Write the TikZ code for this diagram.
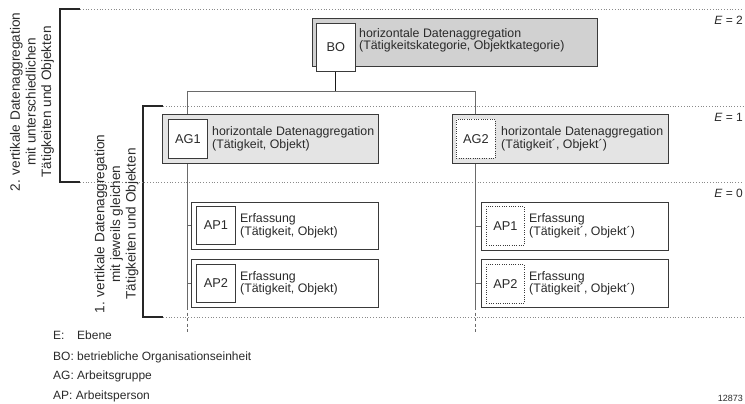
\documentclass[tikz,border=0pt]{standalone}
\usepackage{fontspec}
\setmainfont{Liberation Sans}
\definecolor{boxline}{HTML}{3A3A3A}
\definecolor{bofill}{HTML}{D1D1D1}
\definecolor{agfill}{HTML}{E4E4E4}
\definecolor{linkgray}{HTML}{6A6A6A}
\definecolor{levelgray}{HTML}{8A8A8A}
\definecolor{labeltext}{HTML}{2A2A2A}
\begin{document}
\begin{tikzpicture}[x=1pt,y=-1pt,
  txt/.style={font=\fontsize{12}{12.5}\selectfont, text=labeltext, inner sep=0pt},
  boxtxt/.style={txt, anchor=west, align=left, font=\fontsize{12.35}{12.6}\selectfont},
  frame/.style={draw=boxline, line width=0.8pt, inner sep=0pt, anchor=north west},
  bobox/.style={frame, fill=bofill},
  agbox/.style={frame, fill=agfill},
  apbox/.style={frame, fill=white},
  idbox/.style={frame, fill=white, font=\fontsize{12.8}{13}\selectfont, text=labeltext},
  idloose/.style={idbox, draw=boxline, dash pattern=on 0.9pt off 1.4pt},
  level/.style={draw=levelgray, line width=0.6pt, dash pattern=on 0.8pt off 2pt},
  bracket/.style={draw=black!85, line width=1.2pt},
  link/.style={draw=linkgray, line width=0.9pt},
  linktail/.style={link, dash pattern=on 3pt off 2.5pt},
  sidetext/.style={rotate=90, align=center, text=labeltext, inner sep=0pt,
    font=\fontsize{13.6}{15.6}\selectfont},
  levellabel/.style={txt, anchor=east},
  legend/.style={txt, anchor=west}
]
\useasboundingbox (0,0) rectangle (745,404);

% level boundaries with the two brackets
\coordinate (b2t) at (60,9);
\coordinate (b2b) at (60,182);
\coordinate (b1t) at (143,106);
\coordinate (b1b) at (143,317);
\draw[bracket] ([xshift=20pt]b2t) -- (b2t) -- (b2b) -- ([xshift=20pt]b2b);
\draw[bracket] ([xshift=20pt]b1t) -- (b1t) -- (b1b) -- ([xshift=20pt]b1b);
\draw[level] ([xshift=20pt]b2t) -- (743,9);
\draw[level] ([xshift=20pt]b1t) -- (743,106);
\draw[level] ([xshift=20pt]b2b) -- (743,182);
\draw[level] ([xshift=20pt]b1b) -- (743,317);

\node[levellabel] (e2) at (743,20) {\textit{E} = 2};
\node[levellabel] (e1) at (743,117) {\textit{E} = 1};
\node[levellabel] (e0) at (743,193) {\textit{E} = 0};

% side captions
\node[sidetext] (cap2) at (32,102) {2. vertikale Datenaggregation\\mit unterschiedlichen\\Tätigkeiten und Objekten};
\node[sidetext] (cap1) at (116.5,224) {1. vertikale Datenaggregation\\mit jeweils gleichen\\Tätigkeiten und Objekten};

% junctions of the tree
\coordinate (jl) at (187,91);
\coordinate (jr) at (475,91);
\coordinate (endl) at (187,332);
\coordinate (endr) at (475,332);

% business unit
\node[bobox, minimum width=285pt, minimum height=48pt] (bo) at (312,18) {};
\node[idbox, minimum width=39pt, minimum height=48pt] (boid) at (316,23) {BO};
\node[boxtxt] (botxt) at (359,40.5) {horizontale Datenaggregation\\(Tätigkeitskategorie, Objektkategorie)};

\draw[draw=black!90, line width=0.9pt] (boid.south) -- (boid.south |- jl);
\draw[link] (jl) -- (jr);

% vertical links (drawn before the boxes, which cover them)
\draw[link] (jl) -- (187,114);
\draw[link] (jr) -- (475,114);
\draw[link] (187,163) -- (187,307);
\draw[linktail] (187,307) -- (endl);
\draw[link] (475,163) -- (475,307);
\draw[linktail] (475,307) -- (endr);

% working groups
\node[agbox, minimum width=216pt, minimum height=49pt] (ag1) at (162,114) {};
\node[idbox, minimum width=39pt, minimum height=39pt] (ag1id) at (168,119) {AG1};
\node[boxtxt] (ag1txt) at (212,139) {horizontale Datenaggregation\\(Tätigkeit, Objekt)};

\node[agbox, minimum width=216pt, minimum height=49pt] (ag2) at (452,114) {};
\node[idloose, minimum width=39pt, minimum height=39pt] (ag2id) at (456,119) {AG2};
\node[boxtxt] (ag2txt) at (501,139) {horizontale Datenaggregation\\(Tätigkeit´, Objekt´)};

% working persons
\node[apbox, minimum width=187pt, minimum height=47pt] (ap1l) at (191,202) {};
\node[idbox, minimum width=39pt, minimum height=38pt] (ap1lid) at (196,206) {AP1};
\node[boxtxt] (ap1ltxt) at (240,226) {Erfassung\\(Tätigkeit, Objekt)};

\node[apbox, minimum width=187pt, minimum height=48pt] (ap2l) at (191,259) {};
\node[idbox, minimum width=39pt, minimum height=38pt] (ap2lid) at (196,264) {AP2};
\node[boxtxt] (ap2ltxt) at (240,283.5) {Erfassung\\(Tätigkeit, Objekt)};

\node[apbox, minimum width=187pt, minimum height=48pt] (ap1r) at (481,202) {};
\node[idloose, minimum width=38pt, minimum height=39pt] (ap1rid) at (486,206) {AP1};
\node[boxtxt] (ap1rtxt) at (529,226) {Erfassung\\(Tätigkeit´, Objekt´)};

\node[apbox, minimum width=187pt, minimum height=48pt] (ap2r) at (481,259) {};
\node[idloose, minimum width=38pt, minimum height=39pt] (ap2rid) at (486,264) {AP2};
\node[boxtxt] (ap2rtxt) at (529,283.5) {Erfassung\\(Tätigkeit´, Objekt´)};

\draw[link] (jl |- ap1l.west) -- (ap1l.west);
\draw[link] (jl |- ap2l.west) -- (ap2l.west);
\draw[link] (jr |- ap1r.west) -- (ap1r.west);
\draw[link] (jr |- ap2r.west) -- (ap2r.west);

% legend
\node[legend] (lgE) at (53,335.5) {E:};
\node[legend] (lgEtxt) at (77,335.5) {Ebene};
\node[legend] (lgBO) at (53,357) {BO: betriebliche Organisationseinheit};
\node[legend] (lgAG) at (53,376.5) {AG: Arbeitsgruppe};
\node[legend] (lgAP) at (53,396.5) {AP: Arbeitsperson};
\node[txt, anchor=east, font=\fontsize{9}{10}\selectfont] (fignum) at (743,398) {12873};
\end{tikzpicture}
\end{document}
